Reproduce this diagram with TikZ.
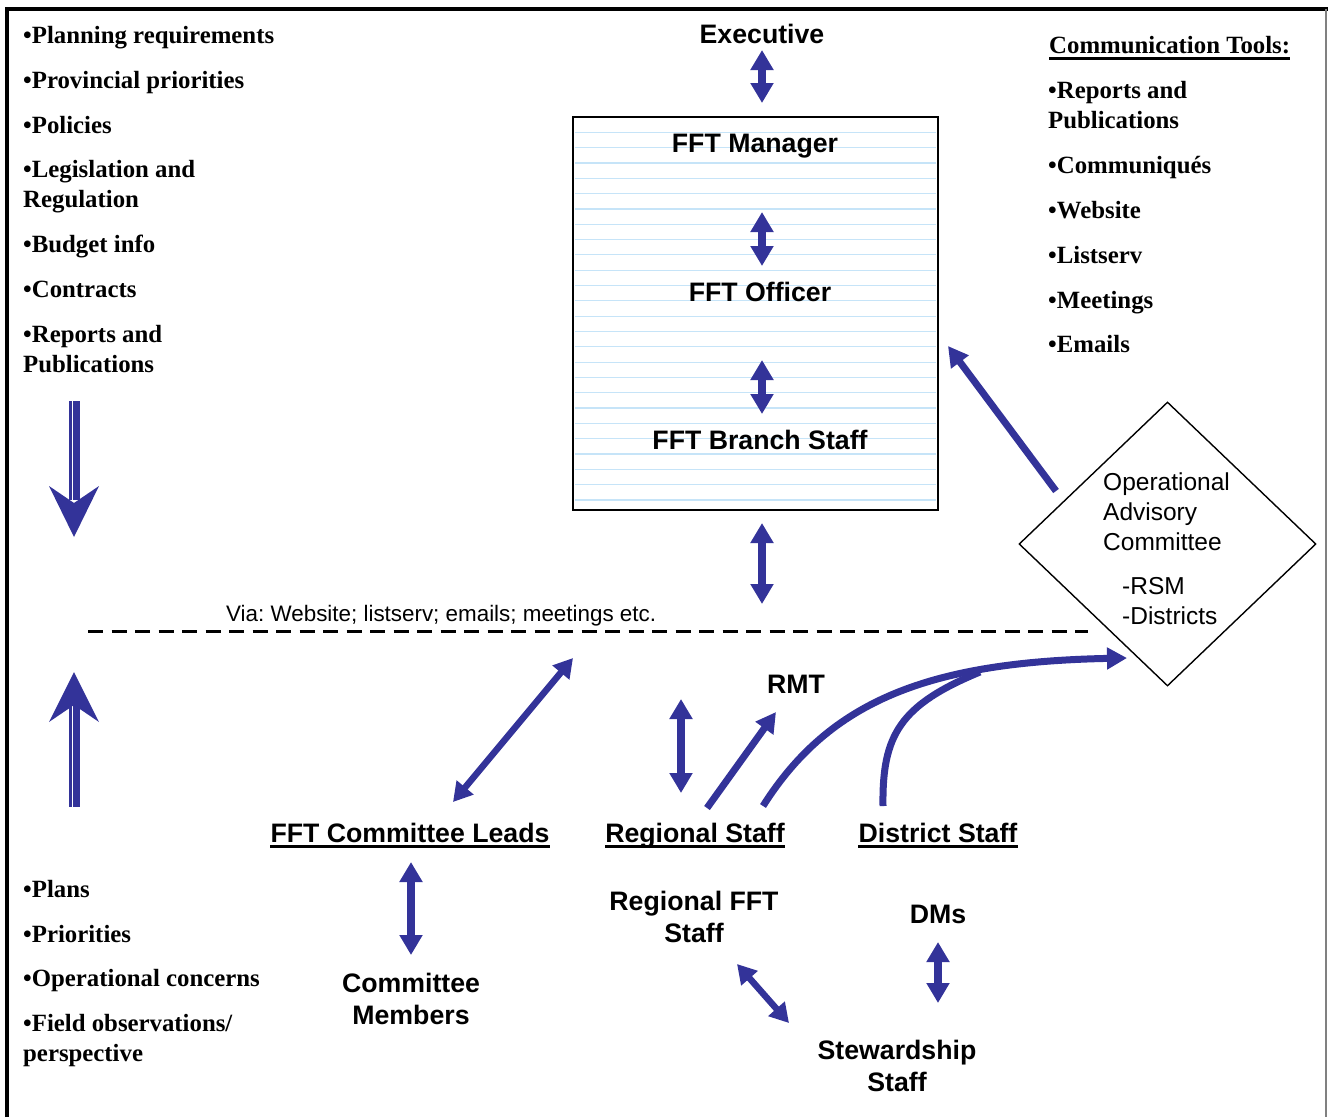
\documentclass[tikz,border=0pt]{standalone}
\usepackage{fontspec}
\setmainfont{Liberation Serif}
\setsansfont{Liberation Sans}
\usetikzlibrary{arrows.meta,shapes.geometric}
\definecolor{arrowblue}{RGB}{51,51,153}
\definecolor{ruleblue}{RGB}{198,228,248}
\frenchspacing
\begin{document}
\begin{tikzpicture}[x=1pt,y=-1pt,
  serifitem/.style={font=\fontsize{24.8}{29.5}\selectfont\bfseries, inner sep=0pt, anchor=base west, align=left},
  lbl/.style={font=\fontsize{26.7}{32}\selectfont\sffamily\bfseries, inner sep=0pt, align=center},
  plain/.style={font=\fontsize{24.5}{30}\selectfont\sffamily, inner sep=0pt},
  dblarrow/.style={draw=arrowblue, line width=8pt, {Triangle[length=20pt,width=22pt]}-{Triangle[length=20pt,width=22pt]}},
  thinarrow/.style={draw=arrowblue, line width=6.5pt, {Triangle[length=19pt,width=21pt]}-{Triangle[length=19pt,width=21pt]}},
  onearrow/.style={draw=arrowblue, line width=7pt, -{Triangle[length=20pt,width=21pt]}},
  uline/.style={line width=2.5pt}
]
\useasboundingbox (0,0) rectangle (1328,1117);
% frame
\draw[line width=4pt] (7,1117) -- (7,8.5) -- (1328,8.5);
\draw[gray, line width=2pt] (1326,8.5) -- (1326,1117);

% left list (base = baseline of last line)
\node[serifitem] (l1) at (23,43) {•Planning requirements};
\node[serifitem] (l2) at (23,88) {•Provincial priorities};
\node[serifitem] (l3) at (23,133) {•Policies};
\node[serifitem] (l4) at (23,207) {•Legislation and\\Regulation};
\node[serifitem] (l5) at (23,252) {•Budget info};
\node[serifitem] (l6) at (23,297) {•Contracts};
\node[serifitem] (l7) at (23,372) {•Reports and\\Publications};

% right list
\node[serifitem] (ct) at (1049,53) {Communication Tools:};
\draw[uline] ([yshift=-5.5pt]ct.base west) -- ([yshift=-5.5pt]ct.base east);
\node[serifitem] (r1) at (1048,128) {•Reports and\\Publications};
\node[serifitem] (r2) at (1048,173) {•Communiqués};
\node[serifitem] (r3) at (1048,218) {•Website};
\node[serifitem] (r4) at (1048,263) {•Listserv};
\node[serifitem] (r5) at (1048,308) {•Meetings};
\node[serifitem] (r6) at (1048,352) {•Emails};

% bottom-left list
\node[serifitem] (b1) at (23,897) {•Plans};
\node[serifitem] (b2) at (23,942) {•Priorities};
\node[serifitem] (b3) at (23,986) {•Operational concerns};
\node[serifitem] (b4) at (23,1061) {•Field observations/\\perspective};

% big left arrows
\fill[arrowblue] (69,401) rectangle (72,500);
\fill[arrowblue] (73,401) rectangle (80,500);
\fill[arrowblue] (49,486) -- (74,537) -- (99,486) -- (74,503) -- cycle;
\fill[arrowblue] (69,705) rectangle (72,807);
\fill[arrowblue] (73,705) rectangle (80,807);
\fill[arrowblue] (49,722) -- (74,672) -- (99,722) -- (74,705) -- cycle;

% FFT box
\foreach \i in {0,...,24} {
  \draw[ruleblue, line width=1.2pt] (575,{132.3+15.32*\i}) -- (936,{132.3+15.32*\i});
}
\node[draw, line width=2.2pt, minimum width=365pt, minimum height=393pt, inner sep=0pt] (box) at (755.5,313.5) {};

\node[lbl, anchor=base] (exec) at (762,43.5) {Executive};
\node[lbl, anchor=base] (mgr) at (755,152.5) {FFT Manager};
\node[lbl, anchor=base] (off) at (760,301.5) {FFT Officer};
\node[lbl, anchor=base] (branch) at (760,449.5) {FFT Branch Staff};

\coordinate (a1s) at (762,50);  \coordinate (a1e) at (762,103);
\coordinate (a2s) at (762,212); \coordinate (a2e) at (762,266);
\coordinate (a3s) at (762,360); \coordinate (a3e) at (762,414);
\coordinate (a4s) at (762,523); \coordinate (a4e) at (762,604);
\draw[dblarrow] (a1s) -- (a1e);
\draw[dblarrow] (a2s) -- (a2e);
\draw[dblarrow] (a3s) -- (a3e);
\draw[dblarrow] (a4s) -- (a4e);

% dashed line
\coordinate (dashL) at (88,631);
\coordinate (dashR) at (1088,631);
\draw[line width=3pt, dash pattern=on 15pt off 8.5pt] (dashL) -- (dashR);
\node[font=\fontsize{22.4}{27}\selectfont\sffamily, inner sep=0pt, anchor=base west] (via) at (226,621) {Via: Website; listserv; emails; meetings etc.};

% diamond
\node[draw, shape=diamond, minimum width=297pt, minimum height=284pt, inner sep=0pt, line width=1.4pt] (oac) at (1167.5,544) {};
\node[plain, anchor=base west, align=left] (oactext) at (1103,624) {Operational\\Advisory\\Committee\\[14pt]\hspace*{19pt}-RSM\\\hspace*{19pt}-Districts};

% lower labels
\node[lbl, anchor=base] (rmt) at (796,693.5) {RMT};
\node[lbl, anchor=base] (cl) at (410,842.5) {FFT Committee Leads};
\draw[uline] ([yshift=-4pt]cl.base west) -- ([yshift=-4pt]cl.base east);
\node[lbl, anchor=base] (rs) at (695,842.5) {Regional Staff};
\draw[uline] ([yshift=-4pt]rs.base west) -- ([yshift=-4pt]rs.base east);
\node[lbl, anchor=base] (ds) at (938,842.5) {District Staff};
\draw[uline] ([yshift=-4pt]ds.base west) -- ([yshift=-4pt]ds.base east);
\node[lbl] (rfft) at (694,916.5) {Regional FFT\\Staff};
\node[lbl, anchor=base] (dms) at (938,923.5) {DMs};
\node[lbl] (cm) at (411,998.5) {Committee\\Members};
\node[lbl] (stew) at (897,1065.5) {Stewardship\\Staff};

% lower arrows
\coordinate (c1s) at (453,802); \coordinate (c1e) at (573,658);
\draw[thinarrow] (c1s) -- (c1e);
\coordinate (c2s) at (411,862); \coordinate (c2e) at (411,955);
\draw[dblarrow] (c2s) -- (c2e);
\coordinate (c3s) at (681,699); \coordinate (c3e) at (681,793);
\draw[dblarrow] (c3s) -- (c3e);
\coordinate (c4s) at (938,942); \coordinate (c4e) at (938,1003);
\draw[dblarrow] (c4s) -- (c4e);
\coordinate (c5s) at (737,964); \coordinate (c5e) at (789,1023);
\draw[thinarrow] (c5s) -- (c5e);
\coordinate (c6s) at (707,808); \coordinate (c6e) at (776,712);
\draw[onearrow] (c6s) -- (c6e);
\coordinate (c7s) at (1056,491); \coordinate (c7e) at (948,346);
\draw[onearrow] (c7s) -- (c7e);
\coordinate (c8s) at (763,806); \coordinate (c8e) at (1127,658);
\draw[onearrow] (c8s) .. controls (830,700) and (930,662) .. (c8e);
\coordinate (c9s) at (883,806); \coordinate (c9e) at (980,672);
\draw[draw=arrowblue, line width=7pt] (c9s) .. controls (882,735) and (900,705) .. (c9e);
\end{tikzpicture}
\end{document}
